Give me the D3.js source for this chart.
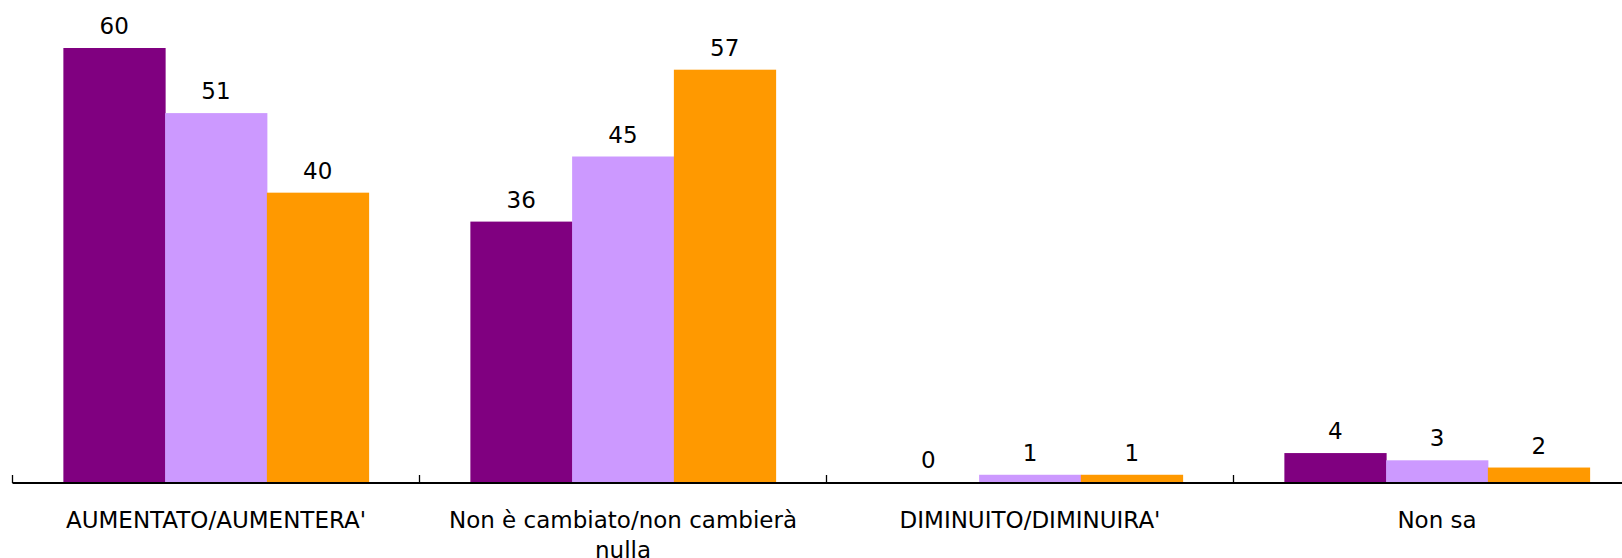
<!DOCTYPE html>
<html>
<head>
<meta charset="utf-8">
<script src="https://cdn.jsdelivr.net/npm/d3@7"></script>
<style>
  html, body { margin: 0; padding: 0; background: #fff; overflow: hidden; }
  text { font-family: Verdana, "DejaVu Sans", sans-serif; fill: #000; }
</style>
</head>
<body>
<div id="chart"></div>
<script>
const categories = ["AUMENTATO/AUMENTERA'", "Non è cambiato/non cambierà nulla", "DIMINUITO/DIMINUIRA'", "Non sa"];
const series = ["s1", "s2", "s3"];
const seriesColors = ["#800080", "#CC99FF", "#FF9900"];
const valuesS1 = [60, 36, 0, 4];
const valuesS2 = [51, 45, 1, 3];
const valuesS3 = [40, 57, 1, 2];

const width = 1622, height = 558;
const margin = { left: 12.5, baseline: 482, top: 48 };
const bandWidth = 407;

const svg = d3.select("#chart")
    .append("svg")
    .attr("width", width)
    .attr("height", height);

const x = d3.scaleBand()
    .domain(categories)
    .range([margin.left, margin.left + bandWidth * categories.length])
    .padding(0);

const xInner = d3.scaleBand()
    .domain(series)
    .range([0, x.bandwidth()])
    .paddingInner(0)
    .paddingOuter(0.5);

const y = d3.scaleLinear()
    .domain([0, 60])
    .range([margin.baseline, margin.top]);

const color = d3.scaleOrdinal().domain(series).range(seriesColors);

const rows = categories.map((c, i) => ({
    category: c,
    values: [valuesS1[i], valuesS2[i], valuesS3[i]].map((v, j) => ({ key: series[j], value: v }))
}));

const groups = svg.selectAll("g.cat")
    .data(rows)
    .enter()
    .append("g")
    .attr("class", "cat")
    .attr("transform", d => "translate(" + x(d.category) + ",0)");

groups.selectAll("rect")
    .data(d => d.values)
    .enter()
    .append("rect")
    .attr("x", d => xInner(d.key))
    .attr("y", d => y(d.value))
    .attr("width", xInner.bandwidth() + 0.5)
    .attr("height", d => y(0) - y(d.value))
    .attr("fill", d => color(d.key));

groups.selectAll("text.val")
    .data(d => d.values)
    .enter()
    .append("text")
    .attr("class", "val")
    .attr("x", d => xInner(d.key) + xInner.bandwidth() / 2)
    .attr("y", d => y(d.value) - 14)
    .attr("text-anchor", "middle")
    .style("font-size", "23px")
    .text(d => d.value);

// Axis line with upward ticks at category boundaries
const axis = svg.append("g");
axis.append("line")
    .attr("x1", x.range()[0])
    .attr("x2", x.range()[1])
    .attr("y1", y(0) + 1)
    .attr("y2", y(0) + 1)
    .attr("stroke", "#000")
    .attr("stroke-width", 2);

const boundaries = categories.map(c => x(c)).concat([x.range()[1]]);
axis.selectAll("line.tick")
    .data(boundaries)
    .enter()
    .append("line")
    .attr("class", "tick")
    .attr("x1", d => d)
    .attr("x2", d => d)
    .attr("y1", y(0) + 1)
    .attr("y2", y(0) - 7)
    .attr("stroke", "#000")
    .attr("stroke-width", 1.3);

// Category labels, wrapped to band width
const labels = svg.selectAll("text.cat")
    .data(categories)
    .enter()
    .append("text")
    .attr("class", "cat")
    .attr("x", d => x(d) + x.bandwidth() / 2)
    .attr("y", 528)
    .attr("text-anchor", "middle")
    .style("font-size", "23px");

labels.each(function (d) {
    const el = d3.select(this);
    const words = d.split(" ");
    let line = [];
    let tspan = el.append("tspan").attr("x", x(d) + x.bandwidth() / 2).attr("dy", 0);
    words.forEach(w => {
        line.push(w);
        tspan.text(line.join(" "));
        if (tspan.node().getComputedTextLength() > x.bandwidth() - 20 && line.length > 1) {
            line.pop();
            tspan.text(line.join(" "));
            line = [w];
            tspan = el.append("tspan")
                .attr("x", x(d) + x.bandwidth() / 2)
                .attr("dy", "1.3em")
                .text(w);
        }
    });
});
</script>
</body>
</html>
